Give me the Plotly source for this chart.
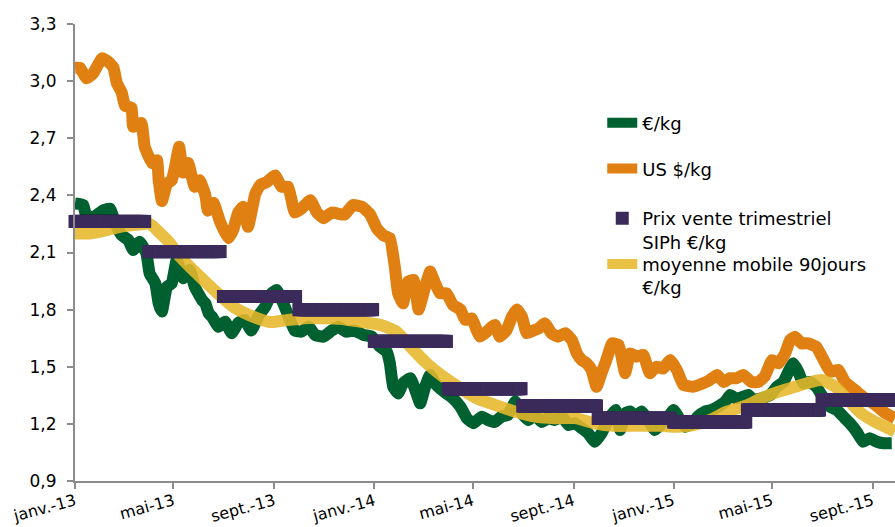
import pandas as pd
import plotly.graph_objects as go

# ---------------- data ----------------
eur_dates = ["2013-01-01","2013-01-11","2013-01-15","2013-01-25","2013-02-05","2013-02-13","2013-02-19","2013-02-27",
             "2013-03-07","2013-03-13","2013-03-21","2013-03-29","2013-04-02","2013-04-09","2013-04-13","2013-04-17",
             "2013-04-23","2013-04-29","2013-05-05","2013-05-13","2013-05-21","2013-05-27","2013-06-05","2013-06-09",
             "2013-06-13","2013-06-17","2013-06-25","2013-07-03","2013-07-11","2013-07-19","2013-07-27","2013-08-04",
             "2013-08-13","2013-08-21","2013-08-29","2013-09-04","2013-09-12","2013-09-18","2013-09-26","2013-10-04",
             "2013-10-13","2013-10-21","2013-10-31","2013-11-10","2013-11-18","2013-11-28","2013-12-08","2013-12-19",
             "2013-12-29","2014-01-08","2014-01-16","2014-01-20","2014-01-24","2014-01-30","2014-02-05","2014-02-14",
             "2014-02-20","2014-02-26","2014-03-04","2014-03-10","2014-03-16","2014-03-22","2014-03-30","2014-04-07",
             "2014-04-16","2014-04-24","2014-05-02","2014-05-12","2014-05-20","2014-05-28","2014-06-05","2014-06-13",
             "2014-06-22","2014-06-30","2014-07-08","2014-07-16","2014-07-24","2014-08-01","2014-08-09","2014-08-18",
             "2014-08-26","2014-09-03","2014-09-11","2014-09-19","2014-09-27","2014-10-05","2014-10-13","2014-10-22",
             "2014-10-28","2014-11-03","2014-11-09","2014-11-15","2014-11-23","2014-12-01","2014-12-09","2014-12-17",
             "2014-12-26","2015-01-01","2015-01-09","2015-01-15","2015-01-23","2015-01-31","2015-02-08","2015-02-16",
             "2015-02-24","2015-03-05","2015-03-11","2015-03-17","2015-03-25","2015-04-02","2015-04-08","2015-04-18",
             "2015-04-29","2015-05-07","2015-05-15","2015-05-21","2015-05-27","2015-06-02","2015-06-08","2015-06-16",
             "2015-06-24","2015-07-03","2015-07-11","2015-07-19","2015-07-27","2015-08-04","2015-08-12","2015-08-20",
             "2015-08-28","2015-09-06","2015-09-14","2015-09-24"]
eur_kg = [2.358,2.35,2.288,2.29,2.323,2.33,2.253,2.19,
          2.166,2.113,2.157,2.096,1.99,1.938,1.833,1.79,
          1.92,1.938,2.06,1.965,2.008,1.92,1.85,1.833,
          1.78,1.763,1.71,1.737,1.676,1.73,1.746,1.69,
          1.77,1.815,1.886,1.903,1.833,1.77,1.69,1.684,
          1.71,1.666,1.658,1.69,1.71,1.684,1.69,1.667,
          1.658,1.605,1.58,1.518,1.395,1.36,1.413,1.44,
          1.378,1.308,1.395,1.457,1.413,1.387,1.36,1.334,
          1.29,1.229,1.203,1.238,1.22,1.21,1.238,1.247,
          1.317,1.255,1.22,1.247,1.21,1.23,1.22,1.238,
          1.194,1.203,1.177,1.15,1.106,1.15,1.22,1.273,
          1.168,1.255,1.265,1.24,1.265,1.22,1.168,1.20,
          1.24,1.273,1.22,1.185,1.20,1.24,1.264,1.273,
          1.29,1.317,1.352,1.335,1.34,1.352,1.325,1.334,
          1.352,1.395,1.42,1.474,1.518,1.474,1.413,1.42,
          1.395,1.334,1.29,1.273,1.238,1.203,1.16,1.106,
          1.124,1.106,1.098,1.098]

usd_dates = ["2013-01-01","2013-01-07","2013-01-15","2013-01-23","2013-02-03","2013-02-11","2013-02-17","2013-02-21",
             "2013-02-27","2013-03-03","2013-03-11","2013-03-13","2013-03-23","2013-03-27","2013-04-05","2013-04-11",
             "2013-04-13","2013-04-17","2013-04-23","2013-04-29","2013-05-03","2013-05-08","2013-05-13","2013-05-19",
             "2013-05-27","2013-06-02","2013-06-09","2013-06-12","2013-06-19","2013-06-27","2013-07-07","2013-07-13",
             "2013-07-19","2013-07-25","2013-07-31","2013-08-09","2013-08-15","2013-08-23","2013-09-02","2013-09-10",
             "2013-09-18","2013-09-26","2013-10-04","2013-10-15","2013-10-23","2013-10-31","2013-11-10","2013-11-22",
             "2013-11-26","2013-12-06","2013-12-17","2013-12-27","2014-01-04","2014-01-12","2014-01-20","2014-01-26",
             "2014-01-30","2014-02-05","2014-02-11","2014-02-18","2014-02-24","2014-03-04","2014-03-10","2014-03-16",
             "2014-03-22","2014-03-30","2014-04-07","2014-04-16","2014-04-22","2014-04-30","2014-05-06","2014-05-10",
             "2014-05-18","2014-05-28","2014-06-03","2014-06-11","2014-06-18","2014-06-24","2014-06-30","2014-07-06",
             "2014-07-14","2014-07-20","2014-07-28","2014-08-05","2014-08-13","2014-08-22","2014-08-30","2014-09-05",
             "2014-09-11","2014-09-17","2014-09-23","2014-09-29","2014-10-05","2014-10-11","2014-10-18","2014-10-26",
             "2014-11-03","2014-11-09","2014-11-17","2014-11-25","2014-12-03","2014-12-11","2014-12-19","2014-12-28",
             "2015-01-05","2015-01-13","2015-01-25","2015-02-06","2015-02-14","2015-02-23","2015-03-03","2015-03-11",
             "2015-03-19","2015-03-27","2015-04-06","2015-04-14","2015-04-22","2015-05-01","2015-05-09","2015-05-17",
             "2015-05-23","2015-05-29","2015-06-06","2015-06-14","2015-06-24","2015-07-03","2015-07-11","2015-07-21",
             "2015-07-29","2015-08-10","2015-08-22","2015-09-04","2015-09-16","2015-09-28"]
usd_kg = [3.07,3.07,3.015,3.04,3.12,3.10,3.07,2.99,
          2.94,2.87,2.86,2.76,2.78,2.655,2.57,2.585,
          2.48,2.37,2.46,2.48,2.55,2.655,2.52,2.57,
          2.445,2.48,2.40,2.32,2.36,2.26,2.175,2.22,
          2.31,2.34,2.235,2.41,2.455,2.47,2.505,2.445,
          2.445,2.31,2.33,2.375,2.31,2.28,2.31,2.30,
          2.30,2.35,2.34,2.30,2.227,2.19,2.175,2.025,
          1.886,1.833,1.947,1.956,1.80,1.92,2.00,1.94,
          1.886,1.886,1.824,1.80,1.746,1.754,1.69,1.658,
          1.684,1.72,1.658,1.69,1.763,1.80,1.763,1.676,
          1.69,1.70,1.728,1.676,1.658,1.676,1.64,1.57,
          1.535,1.518,1.483,1.395,1.466,1.535,1.623,1.614,
          1.466,1.57,1.553,1.562,1.466,1.50,1.49,1.535,
          1.483,1.404,1.395,1.413,1.43,1.457,1.42,1.44,
          1.44,1.457,1.42,1.42,1.448,1.535,1.518,1.57,
          1.64,1.658,1.623,1.623,1.605,1.535,1.474,1.483,
          1.42,1.378,1.335,1.30,1.257,1.23]

ma_dates = ["2013-01-01","2013-01-19","2013-02-09","2013-02-25","2013-03-17","2013-04-02","2013-04-15","2013-04-27",
            "2013-05-09","2013-05-25","2013-06-02","2013-06-23","2013-07-13","2013-08-06","2013-08-27","2013-09-16",
            "2013-10-08","2013-10-29","2013-11-20","2013-12-14","2014-01-08","2014-01-28","2014-02-14","2014-03-06",
            "2014-03-26","2014-04-16","2014-05-06","2014-05-28","2014-06-22","2014-07-16","2014-08-09","2014-09-03",
            "2014-09-27","2014-10-19","2014-11-17","2014-12-15","2015-01-05","2015-01-25","2015-02-14","2015-03-07",
            "2015-03-19","2015-04-02","2015-04-18","2015-05-09","2015-05-29","2015-06-18","2015-07-01","2015-07-17",
            "2015-08-02","2015-08-18","2015-09-04","2015-09-20","2015-09-28"]
ma90_kg = [2.20,2.20,2.218,2.235,2.245,2.25,2.20,2.148,
           2.078,2.008,1.975,1.89,1.815,1.763,1.735,1.745,
           1.755,1.755,1.752,1.737,1.72,1.684,1.605,1.518,
           1.448,1.387,1.334,1.30,1.264,1.238,1.23,1.23,
           1.203,1.19,1.19,1.19,1.185,1.194,1.22,1.264,
           1.28,1.30,1.334,1.369,1.395,1.42,1.43,1.395,
           1.325,1.255,1.21,1.177,1.16]

q_start = ["2013-01-01","2013-04-01","2013-07-01","2013-10-01","2014-01-01","2014-04-01",
           "2014-07-01","2014-10-01","2015-01-01","2015-04-01","2015-07-01"]
q_end = ["2013-03-27","2013-06-27","2013-09-27","2013-12-30","2014-03-30","2014-06-29",
         "2014-09-29","2014-12-28","2015-03-30","2015-06-28","2015-09-30"]
q_price = [2.263,2.105,1.869,1.80,1.633,1.385,1.294,1.229,1.21,1.273,1.325]

tick_dates = ["2013-01-01","2013-05-01","2013-09-01","2014-01-01","2014-05-01","2014-09-01",
              "2015-01-01","2015-05-01","2015-09-01"]
tick_labels = ["janv.-13","mai-13","sept.-13","janv.-14","mai-14","sept.-14","janv.-15","mai-15","sept.-15"]
y_ticks = [0.9,1.2,1.5,1.8,2.1,2.4,2.7,3.0,3.3]

# quarterly price repeated for each day of the quarter
qx, qy = [], []
for s, e, v in zip(q_start, q_end, q_price):
    days = pd.date_range(s, e, freq="D")
    qx.extend(days)
    qy.extend([v] * len(days))

FONT = "DejaVu Sans"
GREEN = "#00602F"
ORANGE = "#E08012"
YELLOW = "#E6B82A"
PURPLE = "#3B2B5B"

fig = go.Figure()
fig.add_trace(go.Scatter(x=eur_dates, y=eur_kg, mode="lines", name="€/kg",
                         line=dict(color=GREEN, width=12, shape="spline", smoothing=0.35), legend="legend"))
fig.add_trace(go.Scatter(x=usd_dates, y=usd_kg, mode="lines", name="US $/kg",
                         line=dict(color=ORANGE, width=12, shape="spline", smoothing=0.35), legend="legend2"))
fig.add_trace(go.Scatter(x=ma_dates, y=ma90_kg, mode="lines", name="moyenne mobile 90jours<br>€/kg",
                         line=dict(color=YELLOW, width=12, shape="spline", smoothing=0.6), opacity=0.88,
                         legend="legend4"))
fig.add_trace(go.Scatter(x=qx, y=qy, mode="markers", name="Prix vente trimestriel<br>SIPh €/kg",
                         marker=dict(symbol="square", size=13, color=PURPLE, line=dict(width=0)),
                         cliponaxis=False, legend="legend3"))

leg_common = dict(xanchor="left", yanchor="middle", bgcolor="rgba(0,0,0,0)", borderwidth=0,
                  valign="top", font=dict(family=FONT, size=18, color="#000000"))
LX = 0.643
fig.update_layout(
    width=895, height=527,
    margin=dict(l=75, r=0, t=24, b=46, autoexpand=False),
    paper_bgcolor="white", plot_bgcolor="white",
    separators=", ",
    font=dict(family=FONT, color="#000000"),
    showlegend=True,
    legend=dict(x=LX, y=0.783, **leg_common),
    legend2=dict(x=LX, y=0.683, **leg_common),
    legend3=dict(x=LX, y=0.549, **leg_common),
    legend4=dict(x=LX, y=0.449, **leg_common),
    xaxis=dict(type="date", range=["2013-01-01", "2015-09-28"], tickvals=tick_dates, ticktext=tick_labels,
               tickangle=-15, showgrid=False, zeroline=False, showline=True, linecolor="#8C8C8C",
               linewidth=2, ticks="outside", ticklen=6, tickwidth=2, tickcolor="#8C8C8C", automargin=False,
               ticklabelstandoff=-3, ticklabeloverflow="allow",
               tickfont=dict(family=FONT, size=16, color="#000000")),
    yaxis=dict(range=[0.9, 3.3], tickvals=y_ticks, tickformat=".1f", showgrid=False, zeroline=False,
               showline=True, linecolor="#8C8C8C", linewidth=2, ticks="outside", ticklen=6, tickwidth=2,
               tickcolor="#8C8C8C", tickfont=dict(family=FONT, size=17, color="#000000"),
               ticklabelstandoff=7, automargin=False),
)

# remove the browser's default page margin so the 895x527 figure fills the window
fig.write_html("out.html", config={"displayModeBar": False},
               post_script="document.body.style.margin='0';document.body.style.overflow='hidden';")
